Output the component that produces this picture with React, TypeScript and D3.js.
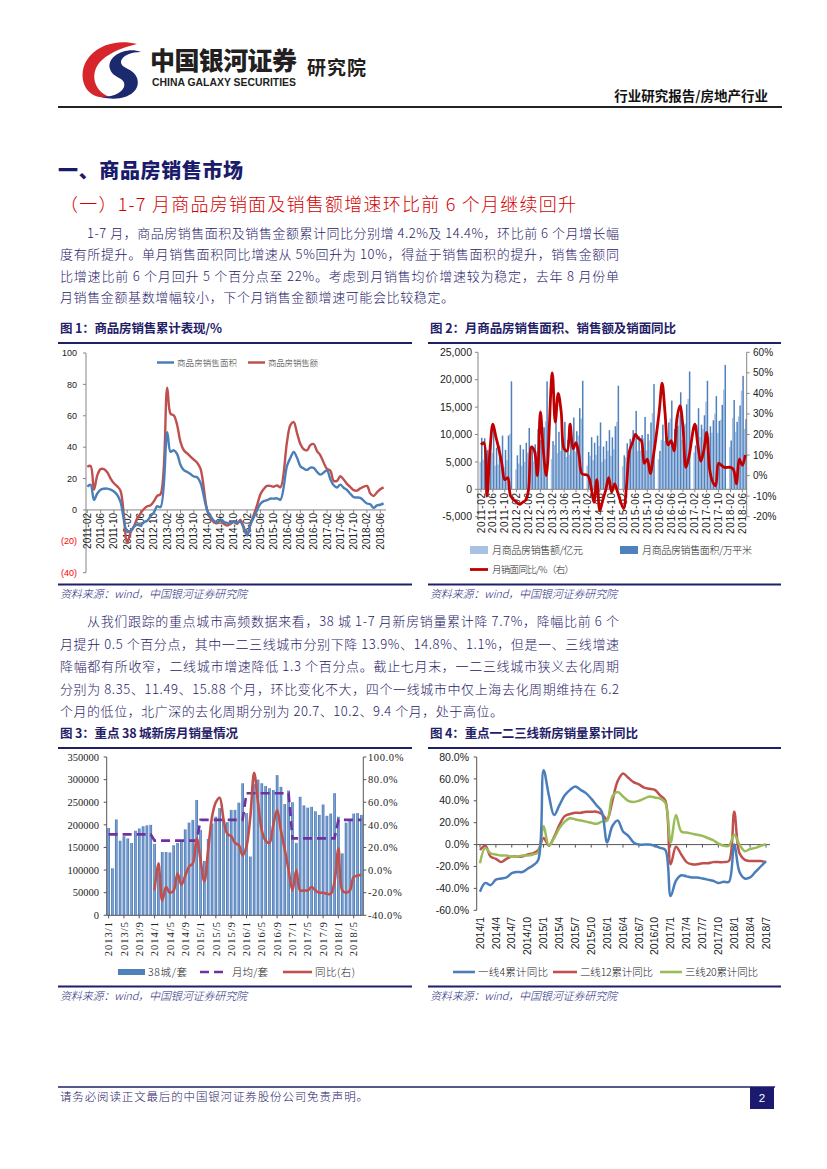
import React from "react";
import * as d3 from "d3";

const CJK = "'Noto Sans CJK SC', 'Noto Sans', sans-serif";
const SANS = "'Liberation Sans', Arial, sans-serif";
const SERIF = "'Liberation Serif', 'Times New Roman', serif";
const NAVY = "#1f2068";
const AXIS = "#868686";

// ---------------- Text content ----------------
const para1Lines = [
  "1-7 月，商品房销售面积及销售金额累计同比分别增 4.2%及 14.4%，环比前 6 个月增长幅",
  "度有所提升。单月销售面积同比增速从 5%回升为 10%，得益于销售面积的提升，销售金额同",
  "比增速比前 6 个月回升 5 个百分点至 22%。考虑到月销售均价增速较为稳定，去年 8 月份单",
  "月销售金额基数增幅较小，下个月销售金额增速可能会比较稳定。",
];
const para2Lines = [
  "从我们跟踪的重点城市高频数据来看，38 城 1-7 月新房销量累计降 7.7%，降幅比前 6 个",
  "月提升 0.5 个百分点，其中一二三线城市分别下降 13.9%、14.8%、1.1%，但是一、三线增速",
  "降幅都有所收窄，二线城市增速降低 1.3 个百分点。截止七月末，一二三线城市狭义去化周期",
  "分别为 8.35、11.49、15.88 个月，环比变化不大，四个一线城市中仅上海去化周期维持在 6.2",
  "个月的低位，北广深的去化周期分别为 20.7、10.2、9.4 个月，处于高位。",
];

// ---------------- Chart 1: cumulative YoY (Feb–Dec each year, 2011-02 .. 2018-07) ----------------
const c1Years = [2011, 2012, 2013, 2014, 2015, 2016, 2017, 2018];
const c1AreaYoY = [
  14.9, 16.0, 6.4, 10.5, 12.9, 13.5, 13.6, 12.9, 11.7, 9.5, 4.9,
  -14.0, -13.3, -10.8, -9.3, -10.0, -7.8, -6.9, -4.0, -1.6, 2.4, 1.8,
  49.5, 37.1, 38.0, 35.6, 28.7, 25.4, 24.2, 22.9, 21.3, 20.8, 17.3,
  -0.1, -3.8, -6.8, -7.8, -6.0, -7.6, -8.3, -8.6, -7.3, -8.2, -7.6,
  -16.3, -9.2, -4.8, -0.2, 3.9, 5.6, 6.2, 7.2, 7.2, 7.4, 6.5,
  28.2, 33.1, 37.0, 33.2, 27.9, 26.4, 25.5, 26.9, 26.8, 24.3, 22.5,
  25.1, 19.5, 15.7, 14.3, 16.1, 14.1, 12.7, 10.3, 8.2, 7.9, 7.7,
  4.1, 3.6, 1.3, 2.9, 3.3, 4.2,
];
const c1ValueYoY = [
  27.5, 28.0, 13.0, 22.0, 26.0, 26.0, 24.0, 20.0, 17.0, 15.0, 12.1,
  -20.9, -14.3, -10.6, -5.4, -2.2, 0.6, 2.3, 3.0, 5.5, 9.0, 10.0,
  77.9, 61.3, 60.2, 54.0, 43.2, 38.0, 36.0, 34.0, 32.0, 30.0, 26.3,
  -0.1, -5.2, -7.8, -8.5, -6.7, -8.9, -10.0, -8.9, -7.8, -8.9, -6.3,
  -15.8, -9.3, -3.1, 3.0, 10.0, 13.4, 15.3, 15.3, 14.8, 15.6, 14.4,
  43.6, 54.1, 56.0, 49.0, 42.0, 38.7, 38.0, 41.3, 42.0, 37.5, 34.8,
  26.1, 25.1, 18.6, 18.5, 21.5, 19.4, 16.6, 14.6, 12.6, 12.3, 13.7,
  15.3, 10.4, 8.9, 11.2, 13.2, 14.4,
];
const c1YTicks = [100, 80, 60, 40, 20, 0, -20, -40];
const monthTicks = [
  "2011-02", "2011-06", "2011-10", "2012-02", "2012-06", "2012-10", "2013-02", "2013-06",
  "2013-10", "2014-02", "2014-06", "2014-10", "2015-02", "2015-06", "2015-10", "2016-02",
  "2016-06", "2016-10", "2017-02", "2017-06", "2017-10", "2018-02", "2018-06",
];

// ---------------- Chart 2: monthly values (Feb–Dec each year) ----------------
const c2SalesValue = [
  5000, 5400, 4100, 4700, 6600, 4300, 4500, 5600, 4000, 5300, 10100,
  3600, 4700, 4300, 5000, 6700, 4800, 5100, 6900, 5500, 7100, 12400,
  5500, 8100, 6600, 7000, 7700, 5900, 6300, 8600, 6900, 9800, 12900,
  4300, 6100, 5300, 6300, 7900, 5000, 5500, 7000, 6100, 7300, 12300,
  4200, 5800, 6700, 7800, 10200, 7000, 7100, 9300, 7100, 8900, 13900,
  5500, 9000, 8800, 9700, 12900, 8700, 9200, 13600, 9000, 12000, 16500,
  6700, 11800, 9500, 11000, 16000, 9500, 10300, 13800, 10300, 12700, 18200,
  7700, 13000, 10500, 13300, 18000, 11000,
];
const c2SalesArea = [
  9400, 9300, 7200, 8200, 11400, 7600, 7900, 9800, 7200, 9800, 19700,
  6200, 8100, 7300, 8500, 11200, 7800, 8200, 11000, 9000, 11300, 19700,
  8800, 13000, 10500, 11000, 12300, 9000, 9700, 13100, 10600, 14800, 19800,
  6800, 9500, 8500, 9800, 12200, 7800, 8800, 10800, 9500, 11500, 18900,
  6200, 8400, 9200, 10800, 14300, 9700, 9900, 13200, 10100, 12200, 19200,
  7000, 11800, 11200, 12200, 16200, 11000, 11600, 17700, 11700, 15500, 21500,
  8000, 14800, 11800, 13500, 19800, 11500, 12600, 17000, 12500, 15400, 22700,
  8900, 16300, 12300, 15300, 20700, 12800,
];
const c2AreaYoY = [
  15, 16, -10, 12, 25, 19, 13, 6, -2, -1, -10,
  -13, -14, -13, -12, -7, 14, 12, 0, 31, 12, 0,
  50, 26, 40, 31, 13, 12, 25, 13, 16, 10, 1,
  0, -5, -13, -2, -17, -12, -7, -1, -8, -4, -8,
  -16, -5, 12, 16, 20, 18, 17, 6, 8, 1, 9,
  31, 45, 30, 15, 17, 12, 28, 34, 24, 4, 9,
  25, 15, 7, 12, 21, 3, -3, -5, 6, 5, 4,
  4, 3, -4, 8, 5, 10,
];
const c2LeftTicks = [25000, 20000, 15000, 10000, 5000, 0, -5000];
const c2RightTicks = [60, 50, 40, 30, 20, 10, 0, -10, -20];

// ---------------- Chart 3: 38 cities (2013/1 .. 2018/7) ----------------
const c3Months = [
  "2013/1", "2013/2", "2013/3", "2013/4", "2013/5", "2013/6", "2013/7", "2013/8", "2013/9", "2013/10", "2013/11", "2013/12",
  "2014/1", "2014/2", "2014/3", "2014/4", "2014/5", "2014/6", "2014/7", "2014/8", "2014/9", "2014/10", "2014/11", "2014/12",
  "2015/1", "2015/2", "2015/3", "2015/4", "2015/5", "2015/6", "2015/7", "2015/8", "2015/9", "2015/10", "2015/11", "2015/12",
  "2016/1", "2016/2", "2016/3", "2016/4", "2016/5", "2016/6", "2016/7", "2016/8", "2016/9", "2016/10", "2016/11", "2016/12",
  "2017/1", "2017/2", "2017/3", "2017/4", "2017/5", "2017/6", "2017/7", "2017/8", "2017/9", "2017/10", "2017/11", "2017/12",
  "2018/1", "2018/2", "2018/3", "2018/4", "2018/5", "2018/6", "2018/7",
];
const c3Volume = [
  193000, 104000, 212000, 165000, 175000, 170000, 160000, 187000, 192000, 197000, 199000, 200000,
  158000, 95000, 140000, 140000, 139000, 155000, 160000, 165000, 190000, 205000, 211000, 255000,
  189000, 120000, 169000, 203000, 218000, 237000, 211000, 206000, 233000, 233000, 249000, 292000,
  226000, 130000, 290000, 300000, 292000, 286000, 281000, 277000, 310000, 284000, 246000, 276000,
  250000, 160000, 262000, 243000, 238000, 240000, 230000, 222000, 245000, 220000, 225000, 270000,
  218000, 137000, 205000, 210000, 225000, 226000, 222000,
];
const c3MonthlyAvg = [
  179000, 179000, 179000, 179000, 179000, 179000, 179000, 179000, 179000, 179000, 179000, 179000,
  165000, 165000, 165000, 165000, 165000, 165000, 165000, 165000, 165000, 165000, 165000, 165000,
  211000, 211000, 211000, 211000, 211000, 211000, 211000, 211000, 211000, 211000, 211000, 211000,
  270000, 270000, 270000, 270000, 270000, 270000, 270000, 270000, 270000, 270000, 270000, 270000,
  170000, 170000, 170000, 170000, 170000, 170000, 170000, 170000, 170000, 170000, 170000, 170000,
  211000, 211000, 211000, 211000, 211000, 211000, 211000,
];
// YoY starts 2014/1
const c3YoY = [
  -18, 6, -27, -15, -20, -18, -3, -13, -5, 3, 6, 28,
  9, -10, 18, 47, 60, 64, 45, 32, 30, 24, 22, 13,
  21, 47, 86, 60, 35, 26, 24, 40, 53, 35, 18, 0,
  -18, 0, -18, -18, -18, -15, -18, -20, -20, -21, -21, -10,
  19, -18, -20, -18, -6, -5, -4,
];
const c3LeftTicks = [350000, 300000, 250000, 200000, 150000, 100000, 50000, 0];
const c3RightTicks = [100, 80, 60, 40, 20, 0, -20, -40];
const c3XTicks = ["2013/1", "2013/5", "2013/9", "2014/1", "2014/5", "2014/9", "2015/1", "2015/5", "2015/9",
  "2016/1", "2016/5", "2016/9", "2017/1", "2017/5", "2017/9", "2018/1", "2018/5"];

// ---------------- Chart 4: tier cumulative YoY (2014/1 .. 2018/7) ----------------
const c4Tier1 = [
  -43, -35, -37, -32, -31, -30, -26, -25, -25, -22, -19, -14,
  68, 45, 27, 36, 45, 50, 53, 50, 47, 42, 36, 30,
  2, 17, 22, 12, 8, 2, 0, 0, 0, -1, -3, -5,
  -47, -33, -28, -29, -30, -30, -31, -32, -33, -35, -34, -34,
  0, -25, -31, -30, -25, -20, -15,
];
const c4Tier2 = [
  -5, -1, -11, -13, -16, -13, -11, -11, -11, -9, -8, -5,
  6, -1, 7, 18, 26, 28, 29, 29, 30, 30, 30, 28,
  23, 40, 58, 65, 61, 57, 55, 52, 51, 50, 45, 40,
  -18, -2, -9, -16, -18, -18, -17, -17, -16, -16, -16, -15,
  30, -8, -14, -15, -15, -15, -16,
];
const c4Tier3 = [
  -17, -3, -8, -9, -10, -10, -11, -11, -10, -10, -9, -7,
  17, -1, 6, 15, 21, 24, 23, 22, 21, 20, 19, 21,
  22, 44, 48, 44, 40, 39, 40, 42, 44, 43, 42, 38,
  2, 27, 12, 11, 10, 9, 8, 6, 4, 1, -1, -1,
  9, 0, -6, -4, -3, -1, 0,
];
const c4Start = [2014, 1];
const c4YTicks = [80, 60, 40, 20, 0, -20, -40, -60];
const c4XTicks = ["2014/1", "2014/4", "2014/7", "2014/10", "2015/1", "2015/4", "2015/7", "2015/10",
  "2016/1", "2016/4", "2016/7", "2016/10", "2017/1", "2017/4", "2017/7", "2017/10", "2018/1", "2018/4", "2018/7"];

// ---------------- helpers ----------------
const febDecIndex: number[] = [];
c1Years.forEach((yr) => {
  const last = yr === 2018 ? 7 : 12;
  for (let m = 2; m <= last; m++) febDecIndex.push((yr - 2011) * 12 + (m - 2));
});
const tickIndex = (s: string) => {
  const [y, m] = s.split("-").map(Number);
  return (y - 2011) * 12 + (m - 2);
};
const c4Index = (s: string) => {
  const [y, m] = s.split("/").map(Number);
  return (y - c4Start[0]) * 12 + (m - c4Start[1]);
};

function segPath(idx: number[], vals: number[], x: (n: number) => number, y: (n: number) => number, curve: d3.CurveFactory) {
  const line = d3.line<number>().x((_, i) => x(idx[i])).y((d) => y(d)).curve(curve);
  return line(vals) || "";
}

function FigTitle({ x, y, w, text, lineX2 }: { x: number; y: number; w: number; text: string; lineX2: number }) {
  return (
    <g>
      <text x={x} y={y} fontFamily={CJK} fontWeight={700} fontSize={12.5} fill={NAVY} textLength={w} lengthAdjust="spacing">{text}</text>
      <line x1={x - 2} x2={lineX2} y1={y + 10} y2={y + 10} stroke={NAVY} strokeWidth={2} />
    </g>
  );
}
function Source({ x, y, lineX2 }: { x: number; y: number; lineX2: number }) {
  return (
    <g>
      <line x1={x - 2} x2={lineX2} y1={y - 12.5} y2={y - 12.5} stroke={NAVY} strokeWidth={2} />
      <text x={x} y={y + 1} fontFamily={CJK} fontSize={11} fontWeight={300} fontStyle="italic" fill="#2a2a80" textLength={187} lengthAdjust="spacing">资料来源：wind，中国银河证券研究院</text>
    </g>
  );
}

function Header() {
  return (
    <g>
      <path d="M137 44 C104 36 76 58 84 84 C88 95 99 99 110 97 C93 91 89 72 102 60 C112 51 125 47 137 44 Z" fill="#d7262b" />
      <path d="M141 52 C127 46 106 56 110 69 C113 79 127 77 124 87 C121 94 111 97 101 97 C124 103 142 92 137 78 C134 68 120 69 121 61 C123 55 132 52 141 52 Z" fill="#1b2a6e" />
      <text x={150} y={70} fontFamily={CJK} fontWeight={900} fontSize={25} fill="#231f20" textLength={147} lengthAdjust="spacing">中国银河证券</text>
      <text x={152} y={86} fontFamily={SANS} fontWeight={700} fontSize={10.5} fill="#231f20" textLength={144} lengthAdjust="spacingAndGlyphs">CHINA GALAXY SECURITIES</text>
      <text x={307} y={75} fontFamily={CJK} fontWeight={700} fontSize={19} fill="#231f20" textLength={59} lengthAdjust="spacing">研究院</text>
      <text x={768} y={101} textAnchor="end" fontFamily={CJK} fontWeight={700} fontSize={13.5} fill="#111">行业研究报告/房地产行业</text>
      <line x1={58} x2={782} y1={107} y2={107} stroke="#222" strokeWidth={2} />
    </g>
  );
}

function Body() {
  const p1y = [238, 259, 281, 302];
  const p2y = [626, 649, 671, 694, 716];
  return (
    <g fontFamily={CJK} fill={NAVY}>
      <text x={58} y={178} fontSize={20} fontWeight={900} fill="#1b1b6b" textLength={185} lengthAdjust="spacing">一、商品房销售市场</text>
      <text x={60} y={211} fontSize={18} fontWeight={300} fill="#d40000" textLength={516} lengthAdjust="spacing">（一）1-7 月商品房销面及销售额增速环比前 6 个月继续回升</text>
      {para1Lines.map((t, i) => (
        <text key={i} x={i === 0 ? 87 : 60} y={p1y[i]} fontSize={13} fontWeight={300} textLength={i === 0 ? 532 : i === 3 ? 394 : 559} lengthAdjust="spacing">{t}</text>
      ))}
      {para2Lines.map((t, i) => (
        <text key={i} x={i === 0 ? 87 : 60} y={p2y[i]} fontSize={13} fontWeight={300} textLength={i === 0 ? 532 : i === 4 ? 443 : 559} lengthAdjust="spacing">{t}</text>
      ))}
    </g>
  );
}

function Chart1() {
  const x = d3.scaleLinear().domain([0, 89]).range([87.3, 383.6]);
  const y = d3.scaleLinear().domain([-40, 100]).range([572.7, 353]);
  const curve = d3.curveCatmullRom.alpha(0.5);
  return (
    <g>
      <FigTitle x={60} y={333} w={162} text="图 1：商品房销售累计表现/%" lineX2={412} />
      <line x1={86} x2={86} y1={y(100)} y2={y(-40)} stroke={AXIS} />
      {c1YTicks.map((t) => (
        <g key={t}>
          <line x1={83} x2={86} y1={y(t)} y2={y(t)} stroke={AXIS} />
          <text x={77} y={y(t)} dy="0.35em" textAnchor="end" fontFamily={SANS} fontSize={9} fill={t < 0 ? "#ff0000" : "#222"}>{t < 0 ? `(${-t})` : t}</text>
        </g>
      ))}
      <line x1={86} x2={386} y1={y(0)} y2={y(0)} stroke={AXIS} />
      {monthTicks.map((t) => (
        <g key={t}>
          <line x1={x(tickIndex(t))} x2={x(tickIndex(t))} y1={y(0)} y2={y(0) + 3} stroke={AXIS} />
          <text transform={`translate(${x(tickIndex(t))},${y(0) + 3}) rotate(-90)`} dy="0.35em" textAnchor="end" fontFamily={SANS} fontSize={10} fill="#222">{t}</text>
        </g>
      ))}
      <path d={segPath(febDecIndex, c1ValueYoY, x, y, curve)} fill="none" stroke="#c0504d" strokeWidth={2.4} />
      <path d={segPath(febDecIndex, c1AreaYoY, x, y, curve)} fill="none" stroke="#4a7ebb" strokeWidth={2.4} />
      <line x1={157} x2={174} y1={362.5} y2={362.5} stroke="#4a7ebb" strokeWidth={2.5} />
      <text x={177} y={365.5} fontFamily={CJK} fontSize={8.5} fontWeight={300} fill="#333" textLength={60} lengthAdjust="spacing">商品房销售面积</text>
      <line x1={248} x2={265} y1={362.5} y2={362.5} stroke="#c0504d" strokeWidth={2.5} />
      <text x={268} y={365.5} fontFamily={CJK} fontSize={8.5} fontWeight={300} fill="#333" textLength={50} lengthAdjust="spacing">商品房销售额</text>
      <Source x={60} y={597} lineX2={412} />
    </g>
  );
}

function Chart2() {
  const x = d3.scaleLinear().domain([0, 89]).range([481, 745.3]);
  const yl = d3.scaleLinear().domain([-5000, 25000]).range([516.7, 352.3]);
  const yr = d3.scaleLinear().domain([-20, 60]).range([516.7, 352.3]);
  const curve = d3.curveCatmullRom.alpha(0.5);
  const bw = 1.5;
  return (
    <g>
      <FigTitle x={430} y={333} w={246} text="图 2：月商品房销售面积、销售额及销面同比" lineX2={781} />
      {c2SalesValue.map((v, i) => (
        <rect key={"v" + i} x={x(febDecIndex[i]) - bw} width={bw} y={yl(Math.max(0, v))} height={Math.abs(yl(v) - yl(0))} fill="#a9c1e2" />
      ))}
      {c2SalesArea.map((v, i) => (
        <rect key={"a" + i} x={x(febDecIndex[i])} width={bw} y={yl(Math.max(0, v))} height={Math.abs(yl(v) - yl(0))} fill="#4f81bd" />
      ))}
      <line x1={478} x2={478} y1={352.3} y2={516.7} stroke={AXIS} />
      <line x1={746.7} x2={746.7} y1={352.3} y2={516.7} stroke={AXIS} />
      <line x1={478} x2={746.7} y1={yl(0)} y2={yl(0)} stroke={AXIS} />
      {c2LeftTicks.map((t) => (
        <g key={t}>
          <line x1={475} x2={478} y1={yl(t)} y2={yl(t)} stroke={AXIS} />
          <text x={472} y={yl(t)} dy="0.35em" textAnchor="end" fontFamily={SANS} fontSize={10.5} fill="#222">{d3.format(",")(t).replace("−", "-")}</text>
        </g>
      ))}
      {c2RightTicks.map((t) => (
        <g key={t}>
          <line x1={746.7} x2={749.7} y1={yr(t)} y2={yr(t)} stroke={AXIS} />
          <text x={753} y={yr(t)} dy="0.35em" fontFamily={SANS} fontSize={10} fill="#222">{t}%</text>
        </g>
      ))}
      {monthTicks.map((t) => (
        <g key={t}>
          <line x1={x(tickIndex(t))} x2={x(tickIndex(t))} y1={yl(0)} y2={yl(0) + 3} stroke={AXIS} />
          <text transform={`translate(${x(tickIndex(t))},${yl(0) + 3}) rotate(-90)`} dy="0.35em" textAnchor="end" fontFamily={SANS} fontSize={10} letterSpacing={0.7} fill="#222">{t}</text>
        </g>
      ))}
      <path d={segPath(febDecIndex, c2AreaYoY, x, yr, curve)} fill="none" stroke="#c00000" strokeWidth={2.8} strokeLinejoin="round" />
      <rect x={470} y={546} width={18} height={8} fill="#a9c1e2" />
      <text x={492} y={554} fontFamily={CJK} fontSize={10} fontWeight={300} fill="#222" textLength={91} lengthAdjust="spacing">月商品房销售额/亿元</text>
      <rect x={620} y={546} width={18} height={8} fill="#4f81bd" />
      <text x={642} y={554} fontFamily={CJK} fontSize={10} fontWeight={300} fill="#222" textLength={110} lengthAdjust="spacing">月商品房销售面积/万平米</text>
      <line x1={470} x2={488} y1={569.5} y2={569.5} stroke="#c00000" strokeWidth={2.8} />
      <text x={492} y={573} fontFamily={CJK} fontSize={9.5} fontWeight={300} fill="#222" textLength={82} lengthAdjust="spacing">月销面同比/%（右）</text>
      <Source x={430} y={597} lineX2={781} />
    </g>
  );
}

function Chart3() {
  const x = d3.scaleBand<string>().domain(c3Months).range([106.7, 363.3]).paddingInner(0.3).paddingOuter(0.15);
  const cx = (s: string) => (x(s) || 0) + x.bandwidth() / 2;
  const yl = d3.scaleLinear().domain([0, 350000]).range([915.3, 757]);
  const yr = d3.scaleLinear().domain([-40, 100]).range([915.3, 757]);
  const curve = d3.curveCatmullRom.alpha(0.5);
  const avgLine = d3.line<number>().x((_, i) => cx(c3Months[i])).y((d) => yl(d));
  const yoyLine = d3.line<number>().x((_, i) => cx(c3Months[i + 12])).y((d) => yr(d)).curve(curve);
  return (
    <g>
      <FigTitle x={60} y={738} w={178} text="图 3：重点 38 城新房月销量情况" lineX2={412} />
      <defs>
        <linearGradient id="barg" x1="0" x2="1" y1="0" y2="0">
          <stop offset="0" stopColor="#3f6fae" />
          <stop offset="0.5" stopColor="#7ea4d6" />
          <stop offset="1" stopColor="#3f6fae" />
        </linearGradient>
      </defs>
      {c3Volume.map((v, i) => (
        <rect key={i} x={x(c3Months[i])} width={x.bandwidth()} y={yl(v)} height={yl(0) - yl(v)} fill="url(#barg)" />
      ))}
      <line x1={106.7} x2={106.7} y1={757} y2={915.3} stroke="#555" />
      <line x1={363.3} x2={363.3} y1={757} y2={915.3} stroke="#555" />
      <line x1={106.7} x2={363.3} y1={915.3} y2={915.3} stroke="#555" />
      {c3LeftTicks.map((t) => (
        <g key={t}>
          <line x1={103.7} x2={106.7} y1={yl(t)} y2={yl(t)} stroke="#555" />
          <text x={99} y={yl(t)} dy="0.35em" textAnchor="end" fontFamily={SERIF} fontSize={10.5} fill="#222">{t}</text>
        </g>
      ))}
      {c3RightTicks.map((t) => (
        <g key={t}>
          <line x1={363.3} x2={366.3} y1={yr(t)} y2={yr(t)} stroke="#555" />
          <text x={368} y={yr(t)} dy="0.35em" fontFamily={SERIF} fontSize={10.5} letterSpacing={0.6} fill="#222">{t.toFixed(1)}%</text>
        </g>
      ))}
      {c3XTicks.map((t) => (
        <g key={t}>
          <line x1={cx(t)} x2={cx(t)} y1={915.3} y2={918.3} stroke="#555" />
          <text transform={`translate(${cx(t)},${921}) rotate(-90)`} dy="0.35em" textAnchor="end" fontFamily={SERIF} fontSize={10.5} letterSpacing={1} fill="#222">{t}</text>
        </g>
      ))}
      <path d={avgLine(c3MonthlyAvg) || ""} fill="none" stroke="#7030a0" strokeWidth={2.6} strokeDasharray="9 5" />
      <path d={yoyLine(c3YoY) || ""} fill="none" stroke="#c0504d" strokeWidth={2.6} />
      <rect x={118} y={969} width={27} height={6} fill="#4f81bd" />
      <text x={148} y={975.5} fontFamily={CJK} fontSize={10.5} fontWeight={300} fill="#222" textLength={39} lengthAdjust="spacing">38城/套</text>
      <line x1={200} x2={228} y1={972} y2={972} stroke="#7030a0" strokeWidth={2.6} strokeDasharray="9 5" />
      <text x={232} y={975.5} fontFamily={CJK} fontSize={10.5} fontWeight={300} fill="#222" textLength={36} lengthAdjust="spacing">月均/套</text>
      <line x1={283} x2={312} y1={972} y2={972} stroke="#c0504d" strokeWidth={2.6} />
      <text x={315} y={975.5} fontFamily={CJK} fontSize={10.5} fontWeight={300} fill="#222" textLength={40} lengthAdjust="spacing">同比(右)</text>
      <Source x={60} y={999} lineX2={412} />
    </g>
  );
}

function Chart4() {
  const x = d3.scaleLinear().domain([0, 54]).range([480, 766]);
  const y = d3.scaleLinear().domain([-60, 80]).range([910.3, 757]);
  const curve = d3.curveCatmullRom.alpha(0.5);
  const idx = c4Tier1.map((_, i) => i);
  return (
    <g>
      <FigTitle x={430} y={738} w={208} text="图 4：重点一二三线新房销量累计同比" lineX2={781} />
      <line x1={476.7} x2={476.7} y1={757} y2={910.3} stroke="#555" />
      {c4YTicks.map((t) => (
        <g key={t}>
          <line x1={473.7} x2={476.7} y1={y(t)} y2={y(t)} stroke="#555" />
          <text x={469} y={y(t)} dy="0.35em" textAnchor="end" fontFamily={SANS} fontSize={10.5} fill="#222">{t.toFixed(1)}%</text>
        </g>
      ))}
      <line x1={476.7} x2={770} y1={y(0)} y2={y(0)} stroke="#555" />
      {c4XTicks.map((t) => (
        <g key={t}>
          <line x1={x(c4Index(t))} x2={x(c4Index(t))} y1={y(0)} y2={y(0) + 3} stroke="#555" />
          <text transform={`translate(${x(c4Index(t))},${917}) rotate(-90)`} dy="0.35em" textAnchor="end" fontFamily={SANS} fontSize={10.5} fill="#222">{t}</text>
        </g>
      ))}
      <path d={segPath(idx, c4Tier2, x, y, curve)} fill="none" stroke="#c0504d" strokeWidth={2.5} />
      <path d={segPath(idx, c4Tier3, x, y, curve)} fill="none" stroke="#9bbb59" strokeWidth={2.5} />
      <path d={segPath(idx, c4Tier1, x, y, curve)} fill="none" stroke="#4a7ebb" strokeWidth={2.5} />
      <line x1={453} x2={475} y1={972} y2={972} stroke="#4a7ebb" strokeWidth={2.6} />
      <text x={478} y={975.5} fontFamily={CJK} fontSize={10.5} fontWeight={300} fill="#222" textLength={70} lengthAdjust="spacing">一线4累计同比</text>
      <line x1={553} x2={577} y1={972} y2={972} stroke="#c0504d" strokeWidth={2.6} />
      <text x={580} y={975.5} fontFamily={CJK} fontSize={10.5} fontWeight={300} fill="#222" textLength={73} lengthAdjust="spacing">二线12累计同比</text>
      <line x1={660} x2={682} y1={972} y2={972} stroke="#9bbb59" strokeWidth={2.6} />
      <text x={685} y={975.5} fontFamily={CJK} fontSize={10.5} fontWeight={300} fill="#222" textLength={73} lengthAdjust="spacing">三线20累计同比</text>
      <Source x={430} y={999} lineX2={781} />
    </g>
  );
}

function Footer() {
  return (
    <g>
      <line x1={58} x2={775} y1={1087} y2={1087} stroke={NAVY} strokeWidth={1.5} />
      <text x={60} y={1101} fontFamily={CJK} fontSize={11.5} fontWeight={300} fill={NAVY} textLength={308} lengthAdjust="spacing">请务必阅读正文最后的中国银河证券股份公司免责声明。</text>
      <rect x={750} y={1087} width={24} height={22} fill="#1b1a6e" />
      <text x={762} y={1102} textAnchor="middle" fontFamily={SANS} fontSize={11.5} fill="#fff">2</text>
    </g>
  );
}

export default function App() {
  return (
    <svg width={827} height={1169} viewBox="0 0 827 1169" style={{ position: "absolute", left: 0, top: 0, background: "#fff" }}>
      <rect width={827} height={1169} fill="#fff" />
      <Header />
      <Body />
      <Chart1 />
      <Chart2 />
      <Chart3 />
      <Chart4 />
      <Footer />
    </svg>
  );
}
